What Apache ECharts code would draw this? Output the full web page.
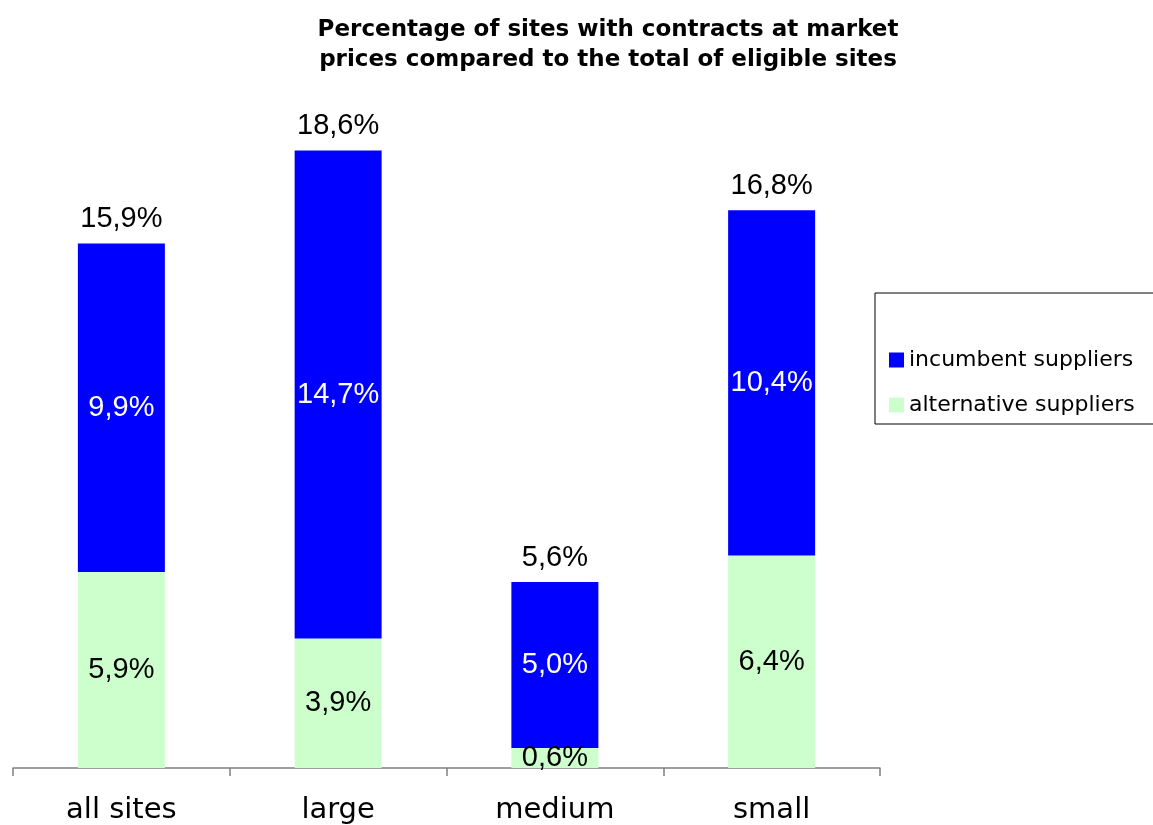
<!DOCTYPE html>
<html>
<head>
<meta charset="utf-8">
<script src="https://cdn.jsdelivr.net/npm/echarts@6/dist/echarts.min.js"></script>
<style>
  html, body { margin: 0; padding: 0; background: #fff; }
  #chart { width: 1153px; height: 825px; }
</style>
</head>
<body>
<div id="chart"></div>
<script>
// Share of sites with market-price contracts, by site size (%)
const categories = ['all sites', 'large', 'medium', 'small'];
const alternative = [5.9, 3.9, 0.6, 6.4];
const incumbent = [9.9, 14.7, 5.0, 10.4];
const totals = [15.9, 18.6, 5.6, 16.8];

const fmt = v => v.toFixed(1).replace('.', ',') + '%';

const chart = echarts.init(document.getElementById('chart'));
chart.setOption({
  animation: false,
  backgroundColor: '#ffffff',
  title: {
    text: 'Percentage of sites with contracts at market\nprices compared to the total of eligible sites',
    left: 603,
    textAlign: 'center',
    top: 10,
    textStyle: {
      fontFamily: 'DejaVu Sans',
      fontWeight: 'bold',
      fontSize: 23,
      lineHeight: 30,
      color: '#000'
    }
  },
  legend: {
    orient: 'vertical',
    left: 875,
    top: 293,
    data: ['incumbent suppliers', 'alternative suppliers'],
    icon: 'rect',
    itemWidth: 15,
    itemHeight: 15,
    itemGap: 23,
    padding: [56, 40, 8, 14],
    borderColor: '#000',
    borderWidth: 1,
    backgroundColor: '#fff',
    selectedMode: false,
    textStyle: {
      fontFamily: 'DejaVu Sans',
      fontSize: 22,
      color: '#000'
    }
  },
  grid: {
    left: 13,
    right: 273,
    top: 104,
    bottom: 57
  },
  xAxis: {
    type: 'category',
    data: categories,
    axisLine: { lineStyle: { color: '#808080', width: 1.5 } },
    axisTick: { show: true, length: 8, lineStyle: { color: '#808080', width: 1.5 } },
    axisLabel: {
      margin: 28,
      fontFamily: 'DejaVu Sans',
      fontSize: 29,
      color: '#000'
    }
  },
  yAxis: {
    type: 'value',
    min: 0,
    max: 20,
    show: false,
    splitLine: { show: false }
  },
  series: [
    {
      name: 'alternative suppliers',
      type: 'bar',
      stack: 'sites',
      barWidth: 87,
      data: alternative,
      itemStyle: { color: '#ccffcc' },
      label: {
        show: true,
        position: 'inside',
        formatter: p => fmt(p.value),
        fontFamily: 'Liberation Sans',
        fontSize: 29,
        color: '#000'
      }
    },
    {
      name: 'incumbent suppliers',
      type: 'bar',
      stack: 'sites',
      barWidth: 87,
      data: incumbent,
      itemStyle: { color: '#0000ff' },
      label: {
        show: true,
        position: 'inside',
        formatter: p => fmt(p.value),
        fontFamily: 'Liberation Sans',
        fontSize: 29,
        color: '#fff'
      }
    },
    {
      name: 'total',
      type: 'bar',
      stack: 'sites',
      barWidth: 87,
      data: totals.map(() => 0),
      itemStyle: { color: 'transparent' },
      silent: true,
      label: {
        show: true,
        position: 'top',
        distance: 10,
        formatter: p => fmt(totals[p.dataIndex]),
        fontFamily: 'Liberation Sans',
        fontSize: 29,
        color: '#000'
      }
    }
  ]
});
</script>
</body>
</html>
